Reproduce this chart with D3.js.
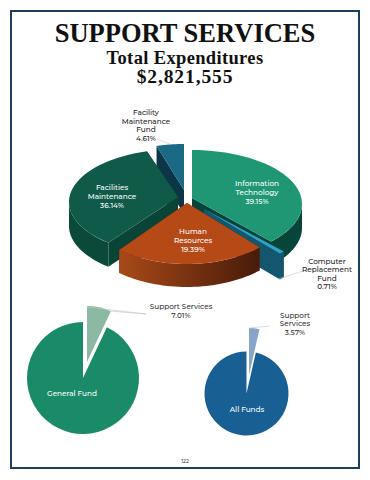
<!DOCTYPE html>
<html><head><meta charset="utf-8">
<script src="https://cdn.jsdelivr.net/npm/d3@7"></script>
<style>html,body{margin:0;background:#fff}svg{display:block}</style></head>
<body><svg id="c" width="370" height="480"></svg>
<script>
const titleLines = ["SUPPORT SERVICES","Total Expenditures","$2,821,555"];
const mainCategories = ["Information Technology","Computer Replacement Fund","Human Resources","Facilities Maintenance","Facility Maintenance Fund"];
const mainValues = [39.15,0.71,19.39,36.14,4.61];
const generalCategories = ["Support Services","General Fund"];
const generalValues = [7.01,92.99];
const allCategories = ["Support Services","All Funds"];
const allValues = [3.57,96.43];
const pageNumber = "122";

const FONT = "Montserrat, Lato, 'Open Sans', sans-serif";
const svg = d3.select("#c");
svg.append("rect").attr("x",11).attr("y",11).attr("width",348).attr("height",457)
  .attr("fill","#fff").attr("stroke","#1b3f5f").attr("stroke-width",2);

// titles
[[titleLines[0],185,42,26.5,0],[titleLines[1],185,64,18.5,.35],[titleLines[2],185,83,19.5,.9]].forEach(([t,x,y,s,ls])=>
  svg.append("text").attr("x",x).attr("y",y).attr("text-anchor","middle")
    .attr("font-family","'Liberation Serif',serif").attr("font-weight","bold").attr("font-size",s)
    .attr("letter-spacing",ls).attr("fill","#111").text(t));

const defs = svg.append("defs");
const g = defs.append("linearGradient").attr("id","hrSide");
[[0,"#a84a18"],[0.45,"#7d3411"],[1,"#471c0a"]].forEach(([o,c])=>g.append("stop").attr("offset",o).attr("stop-color",c));

const pieMain = d3.pie().sort(null)(mainValues);
// ax,ay = slice apex; cx,cy = centre of its rim ellipse
const style3d = [
 {ax:192,ay:198,cx:192,cy:204,rx:110,ry:54,depth:24,top:"#1f9774",side:"#07453a",wall:"#07453a"},
 {ax:204,ay:209,cx:204,cy:209,rx:111,ry:61,depth:26,top:"#2ea5c8",side:"#14566e",wall:"#14566e"},
 {ax:187,ay:203,cx:187,cy:203,rx:106,ry:61,depth:23,top:"#b54a17",side:"url(#hrSide)",wall:"#5a2409"},
 {ax:178,ay:197,cx:178,cy:202,rx:109,ry:53,depth:24,top:"#0f5a48",side:"#0b4a3b",wall:"#0a4436"},
 {ax:184,ay:190,cx:184,cy:190,rx:96,ry:46,depth:24,top:"#1a6a86",side:"#0f3f55",wall:"#0c3546"}
];
const order = [4,3,0,1,2];
// the drawn pie is in perspective: front-half angles are pulled as the picture shows them
const warp = a => (a>Math.PI/2 && a<Math.PI*1.5) ? a + 0.122*Math.sin(2*a) : a;
const pt = (s,a)=>{const w=warp(a);return [s.cx+s.rx*Math.sin(w), s.cy-s.ry*Math.cos(w)];};
const line = d3.line();
function arcPts(s,a0,a1){return d3.range(0,41).map(i=>pt(s,a0+(a1-a0)*i/40));}
order.forEach(i=>{
  const d=pieMain[i], s=style3d[i], a0=d.startAngle, a1=d.endAngle;
  const apex=[s.ax,s.ay];
  const top=[apex,...arcPts(s,a0,a1)];
  const down=p=>[p[0],p[1]+s.depth];
  [a0,a1].forEach(a=>{
    const e=pt(s,a);
    svg.append("path").attr("d",line([apex,e,down(e),down(apex)])+"Z").attr("fill",s.wall);
  });
  const fa0=Math.max(a0,Math.PI/2), fa1=Math.min(a1,Math.PI*1.5);
  if(fa1>fa0){
    const arc=arcPts(s,fa0,fa1);
    svg.append("path").attr("d",line([...arc,...arc.slice().reverse().map(down)])+"Z").attr("fill",s.side);
  }
  svg.append("path").attr("d",line(top)+"Z").attr("fill",s.top);
});

// flat pies
function flat(values,cfg){
  const arc=d3.arc().innerRadius(0);
  d3.pie().sort(null)(values).forEach((d,i)=>{
    const c=cfg[i];
    svg.append("path").attr("transform",`translate(${c.cx},${c.cy})`)
      .attr("d",arc.outerRadius(c.r)(d)).attr("fill",c.fill);
  });
}
flat(generalValues,[{cx:87,cy:362,r:56,fill:"#8bb9a3"},{cx:83,cy:378,r:56,fill:"#1a8a68"}]);
flat(allValues,[{cx:249,cy:375,r:47,fill:"#87a4c9"},{cx:246.5,cy:393.5,r:42,fill:"#185f94"}]);

// leaders
[[[157,139],[170,144]],[[278,279],[303,271]],[[87,307],[146,314]],[[110,311],[146,314]],[[249,328],[270,326]]].forEach(p=>
  svg.append("path").attr("d",line(p)).attr("fill","none").attr("stroke","#c4c4c4").attr("stroke-width",.6));

// labels
function label(lines,cx,ys,fill,size=7.3){
  lines.forEach((t,i)=>svg.append("text").attr("x",cx).attr("y",ys[i]).attr("dy","0.35em").attr("text-anchor","middle")
    .attr("font-family",FONT).attr("font-weight",500).attr("font-size",size).attr("fill",fill).text(t));
}
const pct=v=>v.toFixed(2)+"%";
label(["Facility","Maintenance","Fund",pct(mainValues[4])],146,[112,121,129,138],"#222");
label(["Facilities","Maintenance",pct(mainValues[3])],112,[187,196,205],"#fff");
label(["Information","Technology",pct(mainValues[0])],257,[183,192,201],"#fff");
label(["Human","Resources",pct(mainValues[2])],193,[231,240,249],"#fff");
label(["Computer","Replacement","Fund",pct(mainValues[1])],327,[261,269.6,278,286],"#222");
label([generalCategories[0],pct(generalValues[0])],181,[306,315],"#333");
label(["Support","Services",pct(allValues[0])],295,[315,323.5,332],"#333");
label([generalCategories[1]],72,[393],"#fff");
label([allCategories[1]],247,[409],"#fff");
label([pageNumber],185,[461],"#333",5);
</script></body></html>
